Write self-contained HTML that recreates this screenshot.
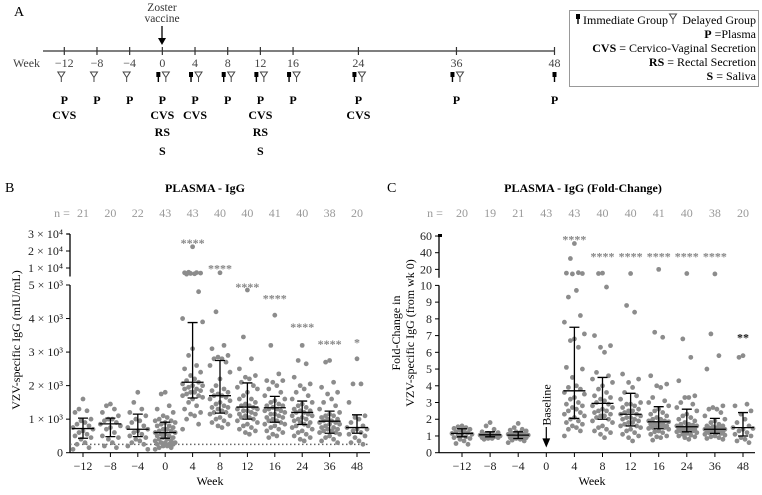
<!DOCTYPE html>
<html><head><meta charset="utf-8">
<style>
html,body{margin:0;padding:0;background:#fff;}
svg, svg text{font-family:"Liberation Serif","DejaVu Serif",serif;}
</style></head>
<body>
<svg id="fig" width="762" height="490" viewBox="0 0 762 490" xmlns="http://www.w3.org/2000/svg" font-family="Liberation Serif, serif">
<g id="panelA">
<text x="14" y="16" font-size="14">A</text>
<text x="162" y="11" font-size="11.5" text-anchor="middle" fill="#333">Zoster</text>
<text x="162" y="22" font-size="11.5" text-anchor="middle" fill="#333">vaccine</text>
<line x1="162" y1="26" x2="162" y2="42" stroke="#000" stroke-width="1.3"/>
<path d="M158,38 L162,45 L166,38 Z" fill="#000"/>
<line x1="43" y1="51" x2="555" y2="51" stroke="#333" stroke-width="1.3"/>
<text x="13" y="67" font-size="12" fill="#444">Week</text>
<g id="timeline"></g>
<rect x="569.5" y="10.5" width="189" height="76" fill="#fff" stroke="#999"/>
<g font-size="12" text-anchor="end">
<text x="583" y="24" text-anchor="start">Immediate Group</text>
<text x="756" y="24">Delayed Group</text>
<text x="756" y="38"><tspan font-weight="bold">P</tspan> =Plasma</text>
<text x="756" y="52"><tspan font-weight="bold">CVS</tspan> = Cervico-Vaginal Secretion</text>
<text x="756" y="66"><tspan font-weight="bold">RS</tspan> = Rectal Secretion</text>
<text x="756" y="80"><tspan font-weight="bold">S</tspan> = Saliva</text>
</g>
<g id="legendSyms"></g>
</g>

<g id="panelB">
<text x="5" y="192" font-size="14">B</text>
<text x="205" y="192" font-size="12" font-weight="bold" text-anchor="middle">PLASMA -  IgG</text>
<text x="20" y="340" font-size="12" text-anchor="middle" transform="rotate(-90 20 340)">VZV-specific IgG (mIU/mL)</text>
<text x="210" y="485" font-size="12" text-anchor="middle">Week</text>
<g id="chartB"></g>
</g>

<g id="panelC">
<text x="387" y="192" font-size="14">C</text>
<text x="583" y="192" font-size="12" font-weight="bold" text-anchor="middle">PLASMA - IgG (Fold-Change)</text>
<text x="400" y="333" font-size="12" text-anchor="middle" transform="rotate(-90 400 333)">Fold-Change in</text>
<text x="414" y="333" font-size="12" text-anchor="middle" transform="rotate(-90 414 333)">VZV-specific IgG (from wk 0)</text>
<text x="592" y="485" font-size="12" text-anchor="middle">Week</text>
<g id="chartC"></g>
</g>
</svg>
<script>
const weeks = ["−12","−8","−4","0","4","8","12","16","24","36","48"];
const nB = [21,20,22,43,43,40,40,41,40,38,20];
const nC = [20,19,21,43,43,40,40,41,40,38,20];
const medB = [720,860,700,600,2100,1700,1360,1340,1200,940,750];
const q3B = [1030,1030,1150,910,3880,2750,2080,1680,1540,1240,1130];
const q1B = [430,480,480,430,1630,1180,1000,910,840,580,580];
const starsB = ["","","","","****","****","****","****","****","****","*"];
const starValB = [0,0,0,0,26000,11000,5000,4650,3800,3300,3350];
const ptsB = [
[1600,1300,1250,1200,1000,950,900,850,800,750,700,650,600,550,500,450,400,300,250,150,100],
[1450,1400,1300,1200,1100,1000,950,900,850,800,750,700,600,500,450,400,300,200,150,1000],
[1800,1500,1300,1200,1100,1000,900,800,750,700,650,600,550,500,450,400,350,300,250,200,100,950],
[1800,1750,1400,1300,1200,1100,1000,950,900,900,850,800,800,750,700,700,650,600,600,550,550,500,500,450,450,400,400,350,350,300,300,300,250,250,250,200,200,150,150,100,1050,950,650],
[22500,7500,7200,7000,6800,6600,6400,7300,4800,4000,3900,3100,2900,2600,2500,2400,2300,2200,2100,2050,2000,2000,1950,1900,1850,1800,1800,1750,1700,1700,1650,1600,1500,1400,1300,1200,1150,1100,1000,850,700,2150,1900],
[7200,4200,3200,3100,2900,2850,2800,2800,2700,2600,2400,2200,2000,1900,1800,1700,1700,1650,1600,1550,1500,1450,1400,1350,1300,1250,1200,1200,1150,1100,1050,1000,950,900,850,800,750,1750,1850,1350],
[4850,3450,2800,2500,2300,2250,2200,2100,2000,1950,1900,1800,1700,1600,1500,1450,1400,1350,1300,1300,1250,1200,1150,1100,1050,1000,950,900,850,800,750,700,650,600,550,1400,1600,1150,1250,1050],
[4100,3200,2350,2150,2150,2100,2000,1900,1800,1700,1600,1550,1500,1450,1400,1350,1300,1300,1250,1200,1150,1100,1050,1000,950,900,850,800,750,700,650,600,550,500,450,1400,1250,1150,1050,950,850],
[3200,2750,2650,2250,2050,2000,1900,1800,1700,1600,1500,1450,1400,1350,1300,1250,1200,1200,1150,1100,1050,1000,950,900,850,800,750,700,650,600,550,500,450,400,350,1100,1250,1000,900,800],
[2750,2700,2100,1950,1800,1750,1600,1500,1400,1300,1200,1150,1100,1050,1000,950,950,900,900,850,800,750,700,650,600,600,550,500,450,400,350,300,1000,1100,850,750,700,650],
[2800,2050,2050,1500,1100,1050,1000,900,800,750,700,700,650,600,550,500,450,350,300,250]
];
const yTicksB = [0,1000,2000,3000,4000,5000];
const yTickLabB = ["0","1 × 10³","2 × 10³","3 × 10³","4 × 10³","5 × 10³"];
const yTicksBUp = [10000,20000,30000];
const yTickLabBUp = ["1 × 10⁴","2 × 10⁴","3 × 10⁴"];
const lodB = 250;

const medC = [1.15,1.07,1.05,null,3.7,2.95,2.3,1.85,1.55,1.4,1.5];
const q3C = [1.43,1.25,1.25,null,7.5,4.5,3.55,2.75,2.6,2.05,2.4];
const q1C = [0.95,0.95,0.85,null,2.05,2.0,1.6,1.43,1.25,1.15,1.0];
const starsC = ["","","","","****","****","****","****","****","****","**"];
const starValC = [0,0,0,0,58,38,38,38,38,38,7];
const ptsC = [
[1.6,1.55,1.5,1.45,1.4,1.35,1.3,1.25,1.2,1.15,1.1,1.05,1.0,0.95,0.9,0.85,0.8,0.7,0.55,0.5],
[1.8,1.6,1.4,1.25,1.2,1.15,1.1,1.1,1.05,1.05,1.0,1.0,0.95,0.95,0.9,0.9,0.85,0.85,0.8],
[1.75,1.5,1.4,1.35,1.3,1.25,1.2,1.15,1.1,1.1,1.05,1.0,1.0,0.95,0.9,0.9,0.85,0.8,0.75,0.7,0.6],
[],
[51,33,16,15.5,15,14.5,9.7,9.3,8.2,7.8,7.1,6.8,6.7,6.3,5.1,5.0,4.5,4.0,3.8,3.6,3.5,3.3,3.2,3.0,2.9,2.8,2.7,2.6,2.5,2.4,2.3,2.2,2.1,2.0,1.9,1.8,1.7,1.6,1.5,1.4,1.3,1.0,3.9],
[15.5,15,9.9,7.0,6.4,6.3,6.0,4.8,4.6,4.4,4.2,4.0,3.8,3.6,3.4,3.2,3.1,3.0,2.9,2.8,2.7,2.6,2.5,2.4,2.3,2.2,2.1,2.0,1.9,1.8,1.6,1.5,1.4,1.3,1.2,1.1,0.9,3.3,2.5,2.2],
[15,8.8,8.4,4.7,4.4,4.2,3.9,3.6,3.4,3.2,3.0,2.9,2.8,2.7,2.6,2.5,2.4,2.3,2.2,2.1,2.0,1.9,1.8,1.7,1.6,1.5,1.4,1.3,1.2,1.1,1.0,0.9,0.7,2.5,2.3,2.0,1.8,1.6,2.1,2.9],
[20,7.2,6.9,4.6,4.1,4.0,3.9,3.3,3.1,3.0,2.8,2.6,2.5,2.4,2.3,2.2,2.1,2.0,1.9,1.85,1.8,1.75,1.7,1.6,1.55,1.5,1.45,1.4,1.3,1.25,1.2,1.1,1.0,0.95,0.9,0.75,1.9,1.6,1.7,2.0,1.5],
[15,6.8,5.7,4.3,3.4,3.3,3.3,3.0,2.9,2.7,2.5,2.3,2.2,2.1,2.0,1.9,1.8,1.7,1.65,1.6,1.55,1.5,1.45,1.4,1.35,1.3,1.25,1.2,1.15,1.1,1.05,1.0,0.95,0.9,0.8,1.5,1.6,1.4,1.7,1.3],
[14.5,7.1,5.8,5.0,2.8,2.7,2.6,2.6,2.4,2.2,2.0,1.9,1.8,1.7,1.6,1.55,1.5,1.45,1.4,1.35,1.3,1.3,1.25,1.2,1.2,1.15,1.1,1.05,1.0,0.95,0.9,0.85,0.8,1.4,1.5,1.3,1.6,1.25],
[5.8,5.7,2.9,2.8,2.5,2.3,2.0,1.8,1.6,1.5,1.45,1.4,1.3,1.2,1.1,1.0,0.9,0.8,0.7,0.6]
];
const yTicksC = [0,1,2,3,4,5,6,7,8,9,10];
const yTicksCUp = [20,40,60];

const tlWeeks = [-12,-8,-4,0,4,8,12,16,24,36,48];
const tlImmediate = [0,0,0,1,1,1,1,1,1,1,1];
const tlDelayed = [1,1,1,1,1,1,1,1,1,1,0];
const tlSamples = [["P","CVS"],["P"],["P"],["P","CVS","RS","S"],["P","CVS"],["P"],["P","CVS","RS","S"],["P"],["P","CVS"],["P"],["P"]];

const NS = "http://www.w3.org/2000/svg";
function mk(parent, tag, attrs, text){
  const e = document.createElementNS(NS, tag);
  for (const k in attrs) e.setAttribute(k, attrs[k]);
  if (text !== undefined) e.textContent = text;
  parent.appendChild(e);
  return e;
}
function immSym(g, x, y){
  const s = mk(g,"path",{d:`M${x-2},${y-5} h4 v5 h-1.3 v5 h-1.4 v-5 h-1.3 Z`,fill:"#000"});
  
  
}
function delSym(g, x, y){
  const s = mk(g,"path",{d:`M${x-3.5},${y-5} L${x+3.5},${y-5} L${x},${y+0.5} Z M${x},${y+0.5} V${y+5}`,fill:"none",stroke:"#444","stroke-width":"1"});
  
  
}

(function(){
  const g = document.getElementById("timeline");
  const tx = w => 64.3 + (w + 12) * 8.17;
  tlWeeks.forEach((w,i)=>{
    const x = tx(w);
    const t = mk(g,"line",{x1:x,y1:47,x2:x,y2:55,stroke:"#333","stroke-width":"1.2"});
    
    
    const l = mk(g,"text",{x:x,y:67,"font-size":"12","text-anchor":"middle",fill:"#444"}, w<0?("−"+(-w)):String(w));
    
    
    if (tlImmediate[i] && tlDelayed[i]) { immSym(g,x-4,77); delSym(g,x+3.5,77); }
    else if (tlImmediate[i]) immSym(g,x,77);
    else delSym(g,x-3,77);
    const ys=[104,119,136,155];
    tlSamples[i].forEach((s,k)=>{
      const st = mk(g,"text",{x:x,y:ys[k],"font-size":"12","font-weight":"bold","text-anchor":"middle"}, s);
      
      
    });
  });
  const lg = document.getElementById("legendSyms");
  immSym(lg,578,19);
  delSym(lg,673,19);
})();

const offs = [0,-4,4,-8,8,-2,2,-6,6,-10,10];
function dotPlot(gid, cfg){
  const g = document.getElementById(gid);
  const {x0, dx, y, axisX, xEnd, n, nX, meds, q1, q3, pts, stars, starVals, starColor} = cfg;
  const cx = i => x0 + i*dx;
  const xa = mk(g,"line",{x1:axisX,y1:452.7,x2:xEnd,y2:452.7,stroke:"#000","stroke-width":"1.2"});
  
  
  cfg.drawY(g);
  weeks.forEach((w,i)=>{
    const t = mk(g,"line",{x1:cx(i),y1:452.7,x2:cx(i),y2:457,stroke:"#000","stroke-width":"1"});
    
    
    const l = mk(g,"text",{x:cx(i),y:470,"font-size":"12","text-anchor":"middle",fill:"#222"}, w);
    
    
    const nt = mk(g,"text",{x:cx(i),y:217,"font-size":"12","text-anchor":"middle",fill:"#999"}, String(n[i]));
    
    
  });
  const nl = mk(g,"text",{x:nX,y:217,"font-size":"12","text-anchor":"middle",fill:"#999"}, "n =");
  
  
  pts.forEach((arr,i)=>{
    const sorted = arr.slice().sort((a,b)=>b-a);
    sorted.forEach((v,k)=>{
      const c = mk(g,"circle",{cx:cx(i)+offs[k%offs.length],cy:y(v),r:2.4,fill:"#8c8c8c"});
      
      
    });
  });
  meds.forEach((m,i)=>{
    if (m===null) return;
    const x = cx(i);
    const e = mk(g,"path",{d:`M${x},${y(q3[i])} V${y(q1[i])} M${x-5},${y(q3[i])} h10 M${x-5},${y(q1[i])} h10 M${x-11},${y(m)} h22`,stroke:"#000","stroke-width":"1.3",fill:"none"});
    
    
  });
  stars.forEach((s,i)=>{
    if (!s) return;
    const st = mk(g,"text",{x:cx(i),y:y(starVals[i])+6,"font-size":"12","text-anchor":"middle",fill:starColor(i),"font-weight":"bold"}, s);
    
    
  });
  return cx;
}

function yB(v){ return v<=5000 ? 452.7 - v*0.03354 : 276.5 - (v-5000)*0.0017; }
const cxB = dotPlot("chartB",{
  x0:83, dx:27.4, y:yB, axisX:70, xEnd:370, n:nB, nX:62,
  meds:medB, q1:q1B, q3:q3B, pts:ptsB, stars:starsB, starVals:starValB,
  starColor:()=>"#888",
  drawY:(g)=>{
    const a = mk(g,"path",{d:`M70,452.7 V285 M70,276.5 V234 M67,234 h3`,stroke:"#000","stroke-width":"1.3",fill:"none"});
    
    
    yTicksB.forEach((v,k)=>{
      const t = mk(g,"line",{x1:66,y1:yB(v),x2:70,y2:yB(v),stroke:"#000"});
      
      
      const l = mk(g,"text",{x:63,y:yB(v)+4,"font-size":"12","text-anchor":"end",fill:"#222"}, yTickLabB[k]);
      
      
    });
    yTicksBUp.forEach((v,k)=>{
      const t = mk(g,"line",{x1:66,y1:yB(v),x2:70,y2:yB(v),stroke:"#000"});
      
      
      const l = mk(g,"text",{x:63,y:yB(v)+4,"font-size":"12","text-anchor":"end",fill:"#222"}, yTickLabBUp[k]);
      
      
    });
    const d = mk(g,"line",{x1:70,y1:yB(lodB),x2:370,y2:yB(lodB),stroke:"#666","stroke-width":"1.5","stroke-dasharray":"1.5,2.5"});
    
    
  }
});

function yC(v){ return v<=10 ? 452.7 - v*16.73 : 277.7 - (v-10)*0.8333; }
const cxC = dotPlot("chartC",{
  x0:462, dx:28.1, y:yC, axisX:439, xEnd:755, n:nC, nX:435,
  meds:medC, q1:q1C, q3:q3C, pts:ptsC, stars:starsC, starVals:starValC,
  starColor:(i)=> i===10 ? "#222" : "#888",
  drawY:(g)=>{
    const a = mk(g,"path",{d:`M439,452.7 V285.4 M439,277.7 V236 M439,236 h3`,stroke:"#000","stroke-width":"1.3",fill:"none"});
    
    
    mk(g,"rect",{x:438,y:234,width:4,height:3,fill:"#000"});
    yTicksC.concat(yTicksCUp).forEach(v=>{
      const t = mk(g,"line",{x1:435,y1:yC(v),x2:439,y2:yC(v),stroke:"#000"});
      
      
      const l = mk(g,"text",{x:432,y:yC(v)+4,"font-size":"12","text-anchor":"end",fill:"#222"}, String(v));
      
      
    });
  }
});
(function(){
  const g = document.getElementById("chartC");
  const x = cxC(3);
  const bt = mk(g,"text",{x:x+4,y:405,"font-size":"12","text-anchor":"middle",transform:`rotate(-90 ${x+4} 405)`}, "Baseline");
  
  
  const ar = mk(g,"path",{d:`M${x},427 V444 M${x-3},439 L${x},446 L${x+3},439 Z`,stroke:"#000","stroke-width":"1.2",fill:"#000"});
  
  
})();
</script>
</body></html>
